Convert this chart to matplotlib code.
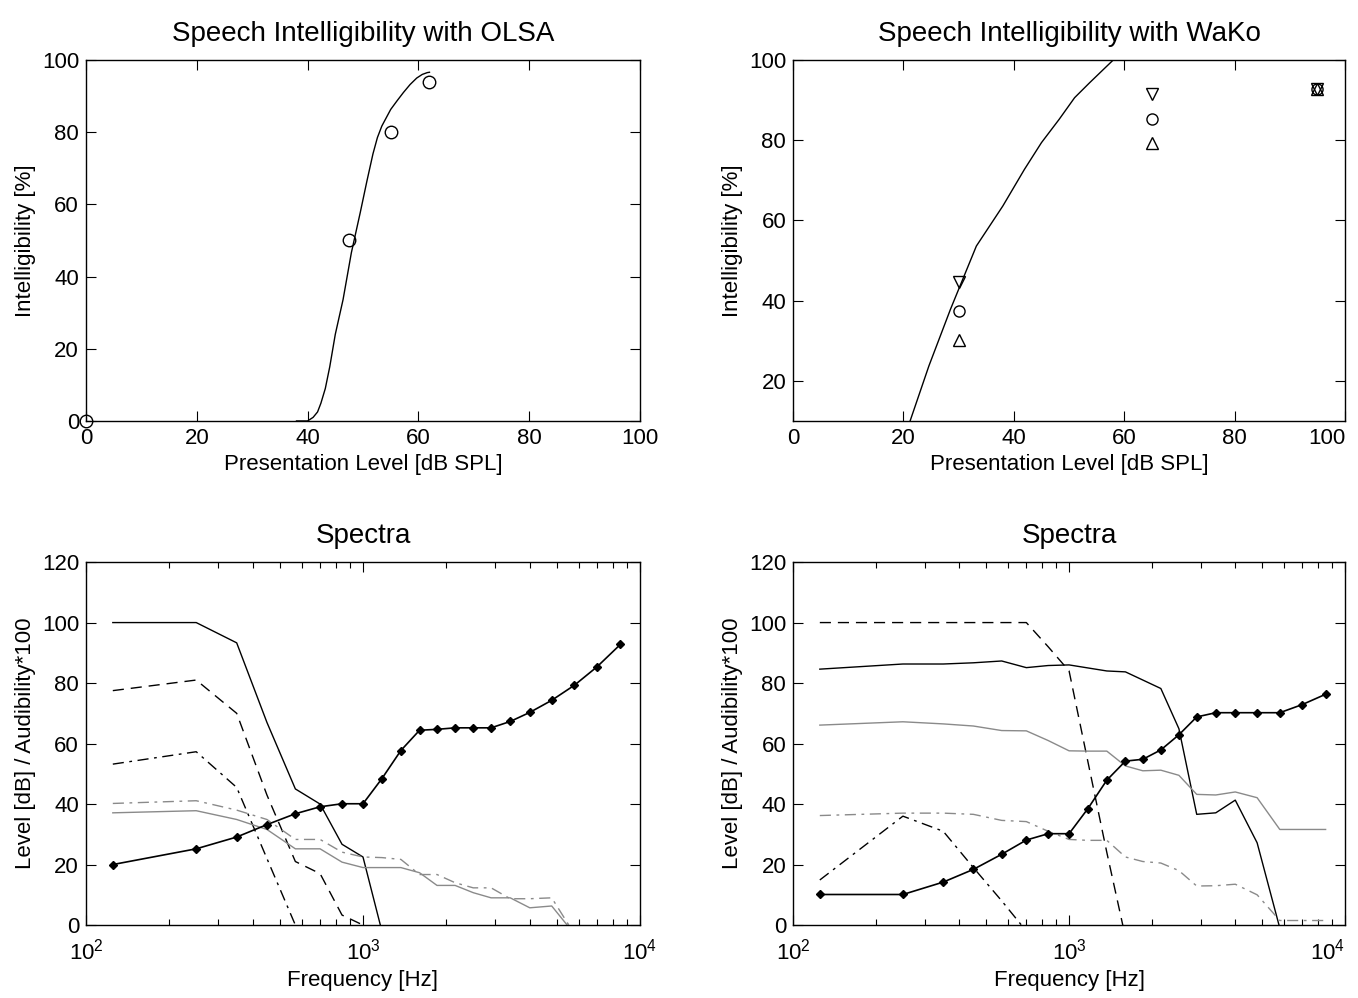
import matplotlib.pyplot as plt
import numpy as np

plt.rcParams['font.family'] = ['Liberation Sans', 'DejaVu Sans']
plt.rcParams['mathtext.fontset'] = 'custom'
plt.rcParams['mathtext.rm'] = 'Liberation Sans'

# OLSA intelligibility
olsa_x = [0, 47.5, 55, 62]
olsa_y = [0, 50, 80, 94]
olsa_fit_x = [38, 40, 41, 41.8, 42.4, 43.2, 44, 45, 46.4, 47.9, 49.5, 50.7, 51.8,
              52.6, 53.4, 55, 56.2, 57.3, 58.5, 59.7, 60.7, 61.6, 62]
olsa_fit_y = [0, 0, 1, 2.5, 4.9, 9, 15, 24, 33.6, 46.6, 57.7, 66.4, 74,
              78.5, 81.7, 86.3, 88.8, 91, 93.2, 95, 96, 96.5, 96.6]

# WaKo intelligibility
wako_x = [30, 65, 95]
wako_mid = [37.5, 85.3, 92.7]
wako_hi = [44.6, 91.6, 92.7]
wako_lo = [30.3, 79.2, 92.7]
wako_fit_x = [21.2, 24.6, 28.5, 33.2, 38, 41.9, 45, 48.2, 51, 53.7, 58, 60]
wako_fit_y = [10, 23.7, 37.8, 53.6, 63.6, 72.7, 79.4, 85.2, 90.6, 94.3, 100, 102]

# Spectra (band centre frequencies)
freq = [125, 250, 350, 450, 570, 700, 840, 1000, 1170, 1370, 1600, 1850,
        2150, 2500, 2900, 3400, 4000, 4800, 5800, 7000, 8500]

# left spectra panel
l_aud = [20, 25.2, 29.1, 33.2, 36.8, 39.1, 40.1, 40.1, 48.4, 57.7, 64.4, 64.7,
         65.2, 65.2, 65.2, 67.3, 70.3, 74.3, 79.3, 85.4, 92.8]
l_solid = [100, 100, 93.3, 67, 45, 40, 26.7, 22.5, -2]
l_dash = [77.5, 81, 70, 43, 21, 17, 3.3, 0]
l_dashdot = [53.2, 57.3, 45.5, 22, 0]
l_gray_dd = [40.2, 41.1, 38, 34.9, 28.3, 28.3, 24.1, 22.5, 22.3, 21.7, 16.7, 16.7,
             14, 12.3, 12.3, 8.7, 8.7, 9, -3]
l_gray = [37.1, 37.8, 34.9, 31.6, 25.2, 25.2, 20.8, 19, 19, 19, 17.3, 13.1,
          13.1, 10.7, 9, 9, 5.7, 6.3, -3]

# right spectra panel
r_aud = [10.1, 10.1, 14.2, 18.4, 23.4, 28.1, 30.2, 30.2, 38.5, 47.9, 54.2, 54.8,
         57.9, 62.9, 68.8, 70.2, 70.2, 70.2, 70.2, 72.9, 76.3]
r_solid = [84.6, 86.3, 86.3, 86.7, 87.3, 85.1, 85.8, 86, 85, 84, 83.7, 81,
           78.2, 64.9, 36.6, 37.1, 41.3, 27.2, -1]
r_dash = [100, 100, 100, 100, 100, 100, 92, 84, 54, 24, -4]
r_dashdot = [14.9, 36, 31, 19, 8, -2]
r_gray_dd = [36.2, 37, 37, 36.6, 34.6, 34.2, 31, 28.3, 28, 28, 22.5, 21,
             20.5, 18, 12.9, 13, 13.5, 10, 1.5, 1.5, 1.5]
r_gray = [66.1, 67.2, 66.5, 65.8, 64.3, 64.2, 61, 57.6, 57.5, 57.5, 52.6, 51,
          51.2, 49.5, 43.2, 43, 44, 42.1, 31.6, 31.6, 31.6]

GRAY = '#8a8a8a'
fig = plt.figure(figsize=(13.58, 9.98), dpi=100)

ax1 = fig.add_axes([0.0633, 0.5782, 0.408, 0.3617])
ax2 = fig.add_axes([0.584, 0.5782, 0.4065, 0.3617])
ax3 = fig.add_axes([0.0633, 0.0731, 0.408, 0.3637])
ax4 = fig.add_axes([0.584, 0.0731, 0.4065, 0.3637])

for ax in [ax1, ax2, ax3, ax4]:
    ax.tick_params(which='both', direction='in', top=True, right=True, labelsize=16,
                   width=0.8, pad=5)
    ax.tick_params(which='major', length=7)
    ax.tick_params(which='minor', length=4)
    for s in ax.spines.values():
        s.set_linewidth(1.0)

# OLSA
ax1.plot(olsa_fit_x, olsa_fit_y, 'k-', lw=1)
ax1.plot(olsa_x, olsa_y, 'ko', mfc='none', ms=9, mew=1, clip_on=False)
ax1.set_xlim(0, 100)
ax1.set_ylim(0, 100)
ax1.set_xticks(np.arange(0, 101, 20))
ax1.set_yticks(np.arange(0, 101, 20))
ax1.set_title('Speech Intelligibility with OLSA', fontsize=20, pad=14)
ax1.set_xlabel('Presentation Level [dB SPL]', fontsize=16)
ax1.set_ylabel('Intelligibility [%]', fontsize=16)

# WaKo
ax2.plot(wako_fit_x, wako_fit_y, 'k-', lw=1)
ax2.plot(wako_x, wako_hi, 'kv', mfc='none', ms=9, mew=1)
ax2.plot(wako_x, wako_mid, 'ko', mfc='none', ms=8, mew=1)
ax2.plot(wako_x, wako_lo, 'k^', mfc='none', ms=9, mew=1)
ax2.set_xlim(0, 100)
ax2.set_ylim(10, 100)
ax2.set_xticks(np.arange(0, 101, 20))
ax2.set_yticks(np.arange(20, 101, 20))
ax2.set_title('Speech Intelligibility with WaKo', fontsize=20, pad=14)
ax2.set_xlabel('Presentation Level [dB SPL]', fontsize=16)
ax2.set_ylabel('Intelligibility [%]', fontsize=16)

# left spectra
ax3.plot(freq[:len(l_solid)], l_solid, 'k-', lw=1)
ax3.plot(freq[:len(l_dash)], l_dash, 'k--', lw=1, dashes=(8, 5))
ax3.plot(freq[:len(l_dashdot)], l_dashdot, 'k-.', lw=1, dashes=(8, 4, 2, 4))
ax3.plot(freq[:len(l_gray_dd)], l_gray_dd, '-.', color=GRAY, lw=1, dashes=(8, 4, 2, 4))
ax3.plot(freq[:len(l_gray)], l_gray, '-', color=GRAY, lw=1)
ax3.plot(freq, l_aud, 'k-', marker='D', ms=4, lw=1.2)

# right spectra
ax4.plot(freq[:len(r_solid)], r_solid, 'k-', lw=1)
ax4.plot(freq[:len(r_dash)], r_dash, 'k--', lw=1, dashes=(8, 5))
ax4.plot(freq[:len(r_dashdot)], r_dashdot, 'k-.', lw=1, dashes=(8, 4, 2, 4))
ax4.plot(freq, r_gray_dd, '-.', color=GRAY, lw=1, dashes=(8, 4, 2, 4))
ax4.plot(freq, r_gray, '-', color=GRAY, lw=1)
ax4.plot(freq, r_aud, 'k-', marker='D', ms=4, lw=1.2)

for ax in [ax3, ax4]:
    ax.set_xscale('log')
    ax.set_xlim(100, 10000)
    ax.set_xticks([100, 1000, 10000])
    ax.set_ylim(0, 120)
    ax.set_yticks(np.arange(0, 121, 20))
    ax.tick_params(axis='x', which='both', pad=10)
    ax.set_title('Spectra', fontsize=20, pad=14)
    ax.set_xlabel('Frequency [Hz]', fontsize=16)
    ax.set_ylabel('Level [dB] / Audibility*100', fontsize=16)

# rightmost tick labels sit at the figure edge, nudge them inward
for ax in [ax2, ax4]:
    ax.get_xticklabels()[-1].set_horizontalalignment('right')

fig.savefig('out.png', dpi=100)
